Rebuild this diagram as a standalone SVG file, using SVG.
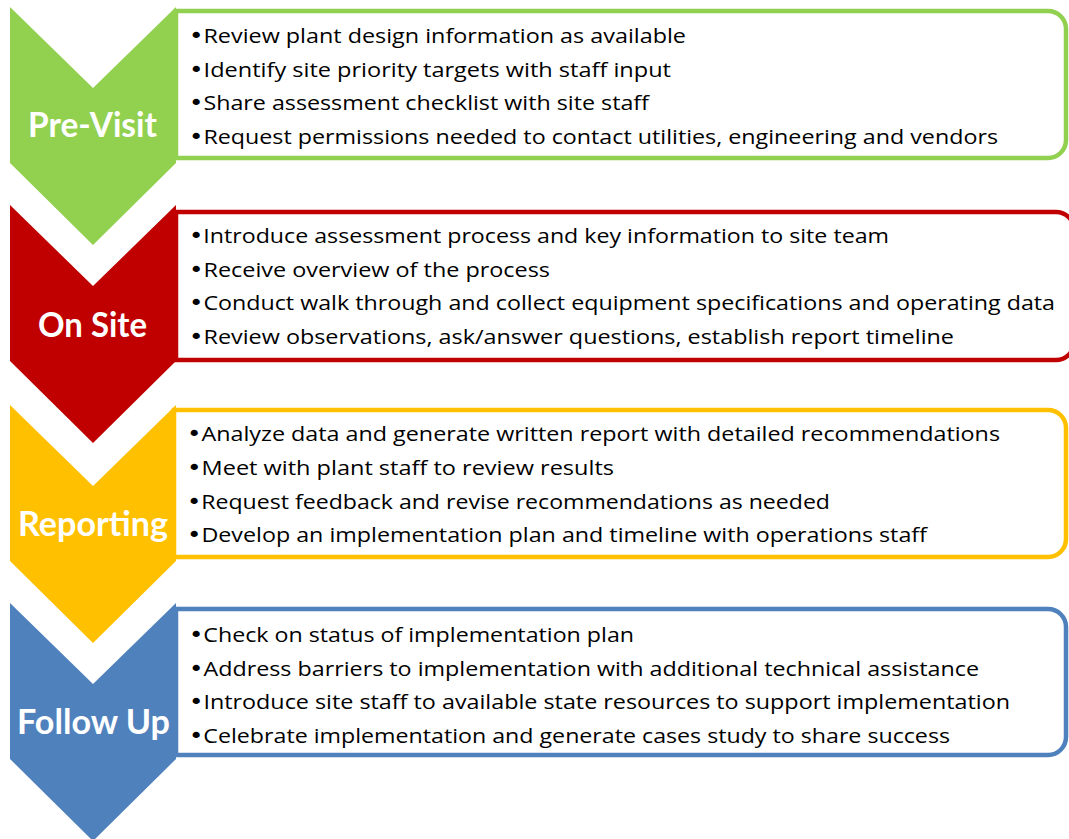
<svg xmlns="http://www.w3.org/2000/svg" width="1069" height="839" viewBox="0 0 1069 839">
  <defs>
    <style>
      .panel { fill: #ffffff; stroke-width: 4.5; }
      .chev { stroke: none; }
      .label { font-family: Lato, "Liberation Sans", sans-serif; font-weight: bold; font-size: 34px; fill: #ffffff; }
      .item { font-family: "Open Sans", "Liberation Sans", sans-serif; font-size: 20px; fill: #000000; }
      .dot { font-family: "DejaVu Sans", sans-serif; font-size: 21px; }
      .green { fill: #92D050; } .green-s { stroke: #92D050; }
      .red { fill: #C00000; } .red-s { stroke: #C00000; }
      .yellow { fill: #FFC000; } .yellow-s { stroke: #FFC000; }
      .blue { fill: #4F81BD; } .blue-s { stroke: #4F81BD; }
    </style>
    <!-- chevron outline, placed per stage with a vertical translate -->
    <path id="chevron" d="M10,7 L93,88 L176,7 L176,163 L93,245 L10,163 Z"/>
  </defs>

  <rect width="1069" height="839" fill="#ffffff"/>

  <!-- Stage 1: Pre-Visit -->
  <g id="stage-previsit">
    <path class="panel green-s" d="M176,11 H1048 A18,18 0 0 1 1066,29 V140 A18,18 0 0 1 1048,158 H176 Z"/>
    <use href="#chevron" class="chev green"/>
    <text class="label" x="28" y="137" textLength="129" lengthAdjust="spacingAndGlyphs">Pre-Visit</text>
    <text class="item" x="189" y="43" textLength="497" lengthAdjust="spacingAndGlyphs"><tspan class="dot">•</tspan>Review plant design information as available</text>
    <text class="item" x="189" y="76.5" textLength="482" lengthAdjust="spacingAndGlyphs"><tspan class="dot">•</tspan>Identify site priority targets with staff input</text>
    <text class="item" x="189" y="110" textLength="460" lengthAdjust="spacingAndGlyphs"><tspan class="dot">•</tspan>Share assessment checklist with site staff</text>
    <text class="item" x="189" y="144" textLength="809" lengthAdjust="spacingAndGlyphs"><tspan class="dot">•</tspan>Request permissions needed to contact utilities, engineering and vendors</text>
  </g>

  <!-- Stage 2: On Site -->
  <g id="stage-onsite">
    <path class="panel red-s" d="M176,212 H1056 A18,18 0 0 1 1074,230 V342 A18,18 0 0 1 1056,360 H176 Z"/>
    <use href="#chevron" class="chev red" transform="translate(0,198)"/>
    <text class="label" x="38" y="337" textLength="109" lengthAdjust="spacingAndGlyphs">On Site</text>
    <text class="item" x="189" y="243" textLength="700" lengthAdjust="spacingAndGlyphs"><tspan class="dot">•</tspan>Introduce assessment process and key information to site team</text>
    <text class="item" x="189" y="276.5" textLength="361" lengthAdjust="spacingAndGlyphs"><tspan class="dot">•</tspan>Receive overview of the process</text>
    <text class="item" x="189" y="310" textLength="866" lengthAdjust="spacingAndGlyphs"><tspan class="dot">•</tspan>Conduct walk through and collect equipment specifications and operating data</text>
    <text class="item" x="189" y="344" textLength="765" lengthAdjust="spacingAndGlyphs"><tspan class="dot">•</tspan>Review observations, ask/answer questions, establish report timeline</text>
  </g>

  <!-- Stage 3: Reporting -->
  <g id="stage-reporting">
    <path class="panel yellow-s" d="M174,410 H1048 A18,18 0 0 1 1066,428 V539 A18,18 0 0 1 1048,557 H174 Z"/>
    <use href="#chevron" class="chev yellow" transform="translate(0,398)"/>
    <text class="label" x="18" y="536" textLength="150" lengthAdjust="spacingAndGlyphs">Reporting</text>
    <text class="item" x="187" y="441" textLength="813" lengthAdjust="spacingAndGlyphs"><tspan class="dot">•</tspan>Analyze data and generate written report with detailed recommendations</text>
    <text class="item" x="187" y="475" textLength="427" lengthAdjust="spacingAndGlyphs"><tspan class="dot">•</tspan>Meet with plant staff to review results</text>
    <text class="item" x="187" y="508.5" textLength="643" lengthAdjust="spacingAndGlyphs"><tspan class="dot">•</tspan>Request feedback and revise recommendations as needed</text>
    <text class="item" x="187" y="542" textLength="740" lengthAdjust="spacingAndGlyphs"><tspan class="dot">•</tspan>Develop an implementation plan and timeline with operations staff</text>
  </g>

  <!-- Stage 4: Follow Up -->
  <g id="stage-followup">
    <path class="panel blue-s" d="M176,609 H1048 A18,18 0 0 1 1066,627 V737 A18,18 0 0 1 1048,755 H176 Z"/>
    <use href="#chevron" class="chev blue" transform="translate(0,596)"/>
    <text class="label" x="17" y="734" textLength="153" lengthAdjust="spacingAndGlyphs">Follow Up</text>
    <text class="item" x="189" y="642" textLength="445" lengthAdjust="spacingAndGlyphs"><tspan class="dot">•</tspan>Check on status of implementation plan</text>
    <text class="item" x="189" y="675.5" textLength="790" lengthAdjust="spacingAndGlyphs"><tspan class="dot">•</tspan>Address barriers to implementation with additional technical assistance</text>
    <text class="item" x="189" y="709" textLength="821" lengthAdjust="spacingAndGlyphs"><tspan class="dot">•</tspan>Introduce site staff to available state resources to support implementation</text>
    <text class="item" x="189" y="743" textLength="761" lengthAdjust="spacingAndGlyphs"><tspan class="dot">•</tspan>Celebrate implementation and generate cases study to share success</text>
  </g>
</svg>
